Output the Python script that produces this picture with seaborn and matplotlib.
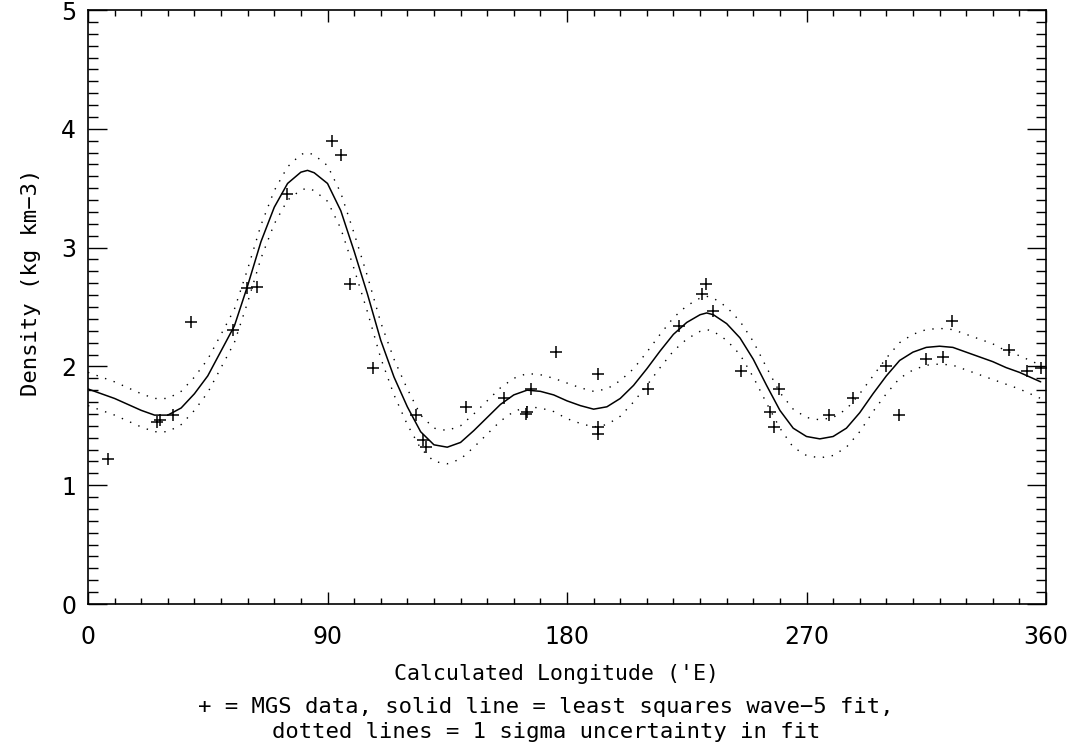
import numpy as np
import pandas as pd
import matplotlib
matplotlib.use("Agg")
import matplotlib.pyplot as plt
from matplotlib.ticker import MultipleLocator
import seaborn as sns

# MGS data points (longitude, density)
data_lon = [7.6, 25.8, 27.0, 31.8, 38.6, 54.6, 59.6, 63.6, 74.8, 91.7, 95.0, 98.4,
            107.1, 123.2, 125.9, 127.2, 142.2, 156.2, 164.7, 165.0, 166.6, 175.7,
            191.6, 191.6, 191.6, 210.4, 222.0, 230.7, 232.1, 234.8, 245.4, 256.1,
            257.7, 259.6, 278.3, 287.4, 299.7, 304.9, 314.9, 321.2, 324.6, 346.0,
            352.7, 358.1]
data_den = [1.22, 1.53, 1.55, 1.59, 2.37, 2.31, 2.66, 2.67, 3.45, 3.90, 3.78, 2.69,
            1.99, 1.59, 1.38, 1.32, 1.66, 1.73, 1.60, 1.62, 1.81, 2.12,
            1.94, 1.49, 1.43, 1.81, 2.34, 2.61, 2.69, 2.47, 1.96, 1.62,
            1.49, 1.81, 1.59, 1.73, 2.00, 1.59, 2.06, 2.08, 2.38, 2.14,
            1.96, 1.99]

# Wave-5 fit
fit_lon = [0, 5, 10, 15, 20, 25, 30, 35, 40, 45, 50, 55, 60, 65, 70, 75, 80, 82.5, 85, 90,
           95, 100, 105, 110, 115, 120, 125, 130, 135, 140, 145, 150, 155, 160, 165,
           170, 175, 180, 185, 190, 195, 200, 205, 210, 215, 220, 225, 230, 232.5, 235, 240,
           245, 250, 255, 260, 265, 270, 275, 280, 285, 290, 295, 300, 305, 310, 315,
           320, 325, 330, 335, 340, 345, 350, 355, 358]
fit_den = [1.81, 1.77, 1.73, 1.68, 1.63, 1.59, 1.59, 1.65, 1.77, 1.92, 2.13, 2.34,
           2.68, 3.05, 3.34, 3.54, 3.635, 3.65, 3.63, 3.54, 3.31, 2.97, 2.61, 2.22, 1.91,
           1.66, 1.45, 1.34, 1.32, 1.36, 1.46, 1.57, 1.68, 1.76, 1.80, 1.79, 1.76,
           1.71, 1.67, 1.64, 1.66, 1.73, 1.84, 1.98, 2.13, 2.27, 2.37, 2.435, 2.45, 2.435,
           2.36, 2.24, 2.06, 1.84, 1.63, 1.48, 1.41, 1.39, 1.41, 1.48, 1.61, 1.77,
           1.92, 2.05, 2.12, 2.16, 2.17, 2.16, 2.12, 2.08, 2.04, 1.99, 1.95, 1.90, 1.87]
fit_sigma = [0.14, 0.14, 0.14, 0.14, 0.14, 0.14, 0.14, 0.14, 0.14, 0.14, 0.14, 0.14,
             0.14, 0.14, 0.14, 0.14, 0.15, 0.15, 0.15, 0.15, 0.15, 0.15, 0.15, 0.15, 0.15,
             0.15, 0.14, 0.14, 0.14, 0.14, 0.14, 0.14, 0.14, 0.14, 0.14, 0.14, 0.14,
             0.15, 0.15, 0.15, 0.15, 0.15, 0.14, 0.14, 0.14, 0.14, 0.14, 0.14, 0.14, 0.14,
             0.14, 0.14, 0.15, 0.15, 0.15, 0.16, 0.16, 0.16, 0.16, 0.16, 0.16, 0.15,
             0.15, 0.15, 0.15, 0.15, 0.15, 0.15, 0.15, 0.15, 0.15, 0.14, 0.14, 0.14, 0.14]

x_ticks = [0, 90, 180, 270, 360]
y_ticks = [0, 1, 2, 3, 4, 5]

sns.set_theme(style="ticks")
plt.rcParams["font.family"] = ["DejaVu Sans"]
for k in ["text.color", "axes.labelcolor", "xtick.color", "ytick.color", "axes.edgecolor"]:
    plt.rcParams[k] = "black"

df_pts = pd.DataFrame({"lon": data_lon, "den": data_den})
fit_upper = [d + s for d, s in zip(fit_den, fit_sigma)]
fit_lower = [d - s for d, s in zip(fit_den, fit_sigma)]
df_fit = pd.DataFrame({"lon": fit_lon, "den": fit_den, "up": fit_upper, "lo": fit_lower})

W, H = 1072, 747
fig = plt.figure(figsize=(W / 100, H / 100), dpi=100)
ax = fig.add_axes([88 / W, 1 - 604 / H, (1046 - 88) / W, (604 - 10) / H])

sns.lineplot(data=df_fit, x="lon", y="den", ax=ax, color="black", linewidth=1.1,
             sort=False, estimator=None)
for col in ["up", "lo"]:
    sns.lineplot(data=df_fit, x="lon", y=col, ax=ax, color="black", linewidth=1.0,
                 sort=False, estimator=None, dashes=False,
                 linestyle=(0, (1, 5.5)))
sns.scatterplot(data=df_pts, x="lon", y="den", ax=ax, marker="+", s=75,
                color="black", linewidth=1.1, zorder=5)

ax.set_xlim(0, 360)
ax.set_ylim(0, 5)
ax.set_xticks(x_ticks)
ax.set_yticks(y_ticks)
ax.xaxis.set_minor_locator(MultipleLocator(10))
ax.yaxis.set_minor_locator(MultipleLocator(0.1))
ax.tick_params(axis="x", which="major", direction="in", length=8.6, width=1.0,
               top=True, bottom=True, labelsize=17, pad=15)
ax.tick_params(axis="x", which="minor", direction="in", length=4.3, width=1.0,
               top=True, bottom=True)
ax.tick_params(axis="y", which="major", direction="in", length=13.7, width=1.0,
               left=True, right=True, labelsize=17, pad=8.5)
ax.tick_params(axis="y", which="minor", direction="in", length=7.2, width=1.0,
               left=True, right=True)
for sp in ax.spines.values():
    sp.set_linewidth(1.2)
    sp.set_color("black")

ax.set_xlabel("")
ax.set_ylabel("")
mono = ["DejaVu Sans Mono"]
fig.text(557 / W, 1 - 680 / H, "Calculated Longitude ('E)",
         ha="center", va="baseline", fontsize=15.5, family=mono)
fig.text(31 / W, 1 - 282 / H, "Density (kg km\u22123)", rotation=90,
         ha="center", va="center", fontsize=16, family=mono)
fig.text(546 / W, 1 - 713 / H,
         "+ = MGS data, solid line = least squares wave\u22125 fit,",
         ha="center", va="baseline", fontsize=16, family=mono)
fig.text(546 / W, 1 - 738 / H,
         "dotted lines = 1 sigma uncertainty in fit",
         ha="center", va="baseline", fontsize=16, family=mono)

fig.savefig("out.png", dpi=100)
